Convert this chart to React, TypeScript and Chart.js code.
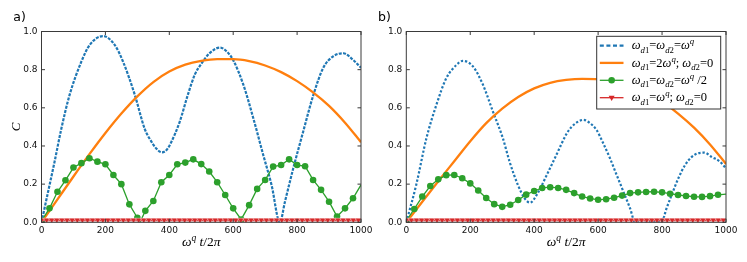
import React, { useEffect, useRef } from 'react';
import { Chart, registerables } from 'chart.js';
Chart.register(...registerables);

// ---------- shared ticks ----------
const xTicks = [0, 200, 400, 600, 800, 1000];
const yTicks = [0, 0.2, 0.4, 0.6, 0.8, 1.0];

// ---------- panel a) ----------
const aBlueX = [0, 20, 41, 62, 88, 125, 151, 193, 229, 255, 292, 323, 344, 360, 377, 392, 406, 432, 458, 480, 500, 525, 559, 580, 600, 632, 663, 694, 720, 746, 762, 788, 819, 851, 882, 913, 945, 976, 1000];
const aBlueY = [0, 0.155, 0.318, 0.49, 0.668, 0.843, 0.93, 0.976, 0.93, 0.843, 0.668, 0.49, 0.423, 0.385, 0.367, 0.38, 0.42, 0.524, 0.668, 0.775, 0.83, 0.885, 0.916, 0.895, 0.85, 0.72, 0.545, 0.353, 0.196, 0.0, 0.108, 0.283, 0.475, 0.668, 0.81, 0.87, 0.886, 0.85, 0.81];

const aOrangeX = [0, 50, 100, 150, 200, 250, 300, 350, 400, 450, 500, 550, 600, 650, 700, 750, 800, 850, 900, 950, 1000];
const aOrangeY = [0, 0.12, 0.24, 0.357, 0.468, 0.57, 0.66, 0.735, 0.79, 0.826, 0.846, 0.855, 0.855, 0.845, 0.822, 0.787, 0.74, 0.681, 0.61, 0.522, 0.42];

const aGreenX = [0, 25, 50, 75, 100, 125, 150, 175, 200, 225, 250, 275, 300, 308, 325, 350, 375, 400, 425, 450, 475, 500, 525, 550, 575, 600, 625, 650, 675, 700, 725, 750, 775, 800, 825, 850, 875, 900, 925, 950, 975, 1000];
const aGreenY = [0.007, 0.073, 0.16, 0.22, 0.287, 0.31, 0.336, 0.318, 0.304, 0.248, 0.2, 0.094, 0.024, 0.0, 0.06, 0.112, 0.21, 0.248, 0.304, 0.313, 0.33, 0.305, 0.266, 0.21, 0.143, 0.073, 0.015, 0.09, 0.175, 0.222, 0.292, 0.3, 0.33, 0.3, 0.294, 0.222, 0.17, 0.108, 0.03, 0.073, 0.126, 0.196];

// ---------- panel b) ----------
const bBlueX = [0, 31, 63, 94, 125, 157, 177, 209, 240, 271, 302, 323, 349, 370, 387, 410, 440, 470, 500, 517, 538, 554, 575, 595, 616, 637, 658, 679, 700, 715, 760, 799, 814, 830, 851, 872, 893, 913, 932, 955, 981, 1000];
const bBlueY = [0, 0.196, 0.441, 0.615, 0.755, 0.825, 0.846, 0.816, 0.72, 0.58, 0.441, 0.318, 0.196, 0.126, 0.103, 0.15, 0.25, 0.355, 0.46, 0.5, 0.528, 0.537, 0.519, 0.484, 0.414, 0.336, 0.248, 0.161, 0.073, 0.003, 0.0, 0.003, 0.073, 0.143, 0.231, 0.3, 0.343, 0.362, 0.365, 0.343, 0.318, 0.283];

const bOrangeX = [0, 50, 100, 150, 200, 250, 300, 350, 400, 450, 500, 550, 600, 650, 700, 750, 800, 850, 900, 950, 1000];
const bOrangeY = [0, 0.108, 0.215, 0.32, 0.425, 0.52, 0.596, 0.657, 0.702, 0.731, 0.746, 0.752, 0.75, 0.74, 0.718, 0.682, 0.633, 0.57, 0.496, 0.408, 0.306];

const bGreenX = [0, 25, 50, 75, 100, 125, 150, 175, 200, 225, 250, 275, 300, 325, 350, 375, 400, 425, 450, 475, 500, 525, 550, 575, 600, 625, 650, 675, 700, 725, 750, 775, 800, 825, 850, 875, 900, 925, 950, 975, 1000];
const bGreenY = [0.007, 0.07, 0.135, 0.19, 0.225, 0.247, 0.248, 0.231, 0.204, 0.167, 0.127, 0.095, 0.081, 0.092, 0.117, 0.145, 0.164, 0.18, 0.184, 0.18, 0.17, 0.153, 0.135, 0.125, 0.118, 0.121, 0.129, 0.14, 0.153, 0.157, 0.159, 0.16, 0.157, 0.15, 0.143, 0.138, 0.134, 0.133, 0.137, 0.144, 0.148];

// ---------- red series (both panels) ----------
const redX = [0, 16, 32, 48, 64, 80, 96, 112, 128, 144, 160, 176, 192, 208, 224, 240, 256, 272, 288, 304, 320, 336, 352, 368, 384, 400, 416, 432, 448, 464, 480, 496, 512, 528, 544, 560, 576, 592, 608, 624, 640, 656, 672, 688, 704, 720, 736, 752, 768, 784, 800, 816, 832, 848, 864, 880, 896, 912, 928, 944, 960, 976, 992];
const redY = [0.012, 0.012, 0.012, 0.012, 0.012, 0.012, 0.012, 0.012, 0.012, 0.012, 0.012, 0.012, 0.012, 0.012, 0.012, 0.012, 0.012, 0.012, 0.012, 0.012, 0.012, 0.012, 0.012, 0.012, 0.012, 0.012, 0.012, 0.012, 0.012, 0.012, 0.012, 0.012, 0.012, 0.012, 0.012, 0.012, 0.012, 0.012, 0.012, 0.012, 0.012, 0.012, 0.012, 0.012, 0.012, 0.012, 0.012, 0.012, 0.012, 0.012, 0.012, 0.012, 0.012, 0.012, 0.012, 0.012, 0.012, 0.012, 0.012, 0.012, 0.012, 0.012, 0.012];

const BLUE = '#1f77b4';
const ORANGE = '#ff7f0e';
const GREEN = '#2ca02c';
const RED = '#d62728';
const FRAME = '#3a3a3a';
const SERIF = '"Liberation Serif", "DejaVu Serif", serif';
const SANS = '"DejaVu Sans", sans-serif';

type Seg = { t: string; it?: boolean; k?: 'sub' | 'sup' };

function drawMath(ctx: CanvasRenderingContext2D, segs: Seg[], x: number, y: number, size: number, align: 'left' | 'center') {
  const small = size * 0.7;
  const font = (g: Seg) => `${g.it ? 'italic ' : ''}${g.k ? small : size}px ${SERIF}`;
  const dy = (g: Seg) => (g.k === 'sub' ? size * 0.27 : g.k === 'sup' ? -size * 0.4 : 0);
  let w = 0;
  for (const g of segs) { ctx.font = font(g); w += ctx.measureText(g.t).width; }
  let cx = align === 'center' ? x - w / 2 : x;
  ctx.textAlign = 'left';
  ctx.textBaseline = 'alphabetic';
  for (const g of segs) {
    ctx.font = font(g);
    ctx.fillText(g.t, cx, y + dy(g));
    cx += ctx.measureText(g.t).width;
  }
}

const Om: Seg = { t: 'ω', it: true };
const dSub: Seg = { t: 'd', it: true, k: 'sub' };
const s1: Seg = { t: '1', k: 'sub' };
const s2: Seg = { t: '2', k: 'sub' };
const qSup: Seg = { t: 'q', it: true, k: 'sup' };
const eq: Seg = { t: '=' };

const legendLabels: Seg[][] = [
  [Om, dSub, s1, eq, Om, dSub, s2, eq, Om, qSup],
  [Om, dSub, s1, eq, { t: '2' }, Om, qSup, { t: '; ' }, Om, dSub, s2, eq, { t: '0' }],
  [Om, dSub, s1, eq, Om, dSub, s2, eq, Om, qSup, { t: ' /2' }],
  [Om, dSub, s1, eq, Om, qSup, { t: '; ' }, Om, dSub, s2, eq, { t: '0' }],
];
const xTitle: Seg[] = [Om, qSup, { t: ' ' }, { t: 't', it: true }, { t: '/2' }, { t: 'π', it: true }];

const pts = (xs: number[], ys: number[]) => xs.map((x, i) => ({ x, y: ys[i] }));

function buildDatasets(blueX: number[], blueY: number[], orX: number[], orY: number[], grX: number[], grY: number[], blueDash: number[]) {
  return [
    {
      data: pts(redX, redY), borderColor: RED, borderWidth: 2.5, pointStyle: 'triangle', pointRotation: 180,
      pointRadius: 3.6, pointBackgroundColor: RED, pointBorderColor: '#ffffff', pointBorderWidth: 0.4, clip: 0,
    },
    {
      data: pts(grX, grY), borderColor: GREEN, borderWidth: 1.3, tension: 0,
      pointRadius: (c: any) => { const r = c.raw; return r && r.x % 25 === 0 && r.x < 1000 ? 3.3 : 0; },
      pointBackgroundColor: GREEN, pointBorderColor: GREEN, pointBorderWidth: 0, clip: 0,
    },
    {
      data: pts(orX, orY), borderColor: ORANGE, borderWidth: 2.3, pointRadius: 0, cubicInterpolationMode: 'monotone', clip: 0,
    },
    {
      data: pts(blueX, blueY), borderColor: BLUE, borderWidth: 2.2, borderDash: blueDash, borderCapStyle: 'butt',
      pointRadius: 0, cubicInterpolationMode: 'monotone', clip: 0,
    },
  ];
}

const framePlugin = {
  id: 'frameTicks',
  afterDatasetsDraw(chart: any) {
    const { ctx, chartArea: a, scales } = chart;
    ctx.save();
    ctx.strokeStyle = FRAME;
    ctx.lineWidth = 1;
    ctx.strokeRect(a.left, a.top, a.right - a.left, a.bottom - a.top);
    const L = 3.5;
    ctx.beginPath();
    for (const v of xTicks) {
      const px = scales.x.getPixelForValue(v);
      ctx.moveTo(px, a.bottom); ctx.lineTo(px, a.bottom - L);
      ctx.moveTo(px, a.top); ctx.lineTo(px, a.top + L);
    }
    for (const v of yTicks) {
      const py = scales.y.getPixelForValue(v);
      ctx.moveTo(a.left, py); ctx.lineTo(a.left + L, py);
      ctx.moveTo(a.right, py); ctx.lineTo(a.right - L, py);
    }
    ctx.stroke();
    ctx.restore();
  },
};

function makeOptions(yWidth: number, padRight: number) {
  const tickFont = { family: SANS, size: 9 };
  return {
    responsive: false,
    animation: false,
    events: [],
    layout: { padding: { left: 0, right: padRight, top: 31.5, bottom: 0 } },
    plugins: { legend: { display: false }, tooltip: { enabled: false } },
    scales: {
      x: {
        type: 'linear', min: 0, max: 1000,
        grid: { display: false, drawTicks: false }, border: { display: false },
        afterFit: (s: any) => { s.height = 39.7; },
        afterBuildTicks: (s: any) => { s.ticks = xTicks.map((v) => ({ value: v })); },
        ticks: { maxRotation: 0, autoSkip: false, padding: 3, color: '#111', font: tickFont, callback: (v: any) => String(v) },
      },
      y: {
        type: 'linear', min: 0, max: 1,
        grid: { display: false, drawTicks: false }, border: { display: false },
        afterFit: (s: any) => { s.width = yWidth; },
        afterBuildTicks: (s: any) => { s.ticks = yTicks.map((v) => ({ value: v })); },
        ticks: { autoSkip: false, padding: 4, color: '#111', font: tickFont, callback: (v: any) => Number(v).toFixed(1) },
      },
    },
  };
}

export default function App() {
  const refA = useRef<HTMLCanvasElement>(null);
  const refB = useRef<HTMLCanvasElement>(null);

  useEffect(() => {
    const textA = {
      id: 'textA',
      afterDraw(chart: any) {
        const { ctx, chartArea: a } = chart;
        ctx.save();
        ctx.fillStyle = '#000';
        ctx.font = `12.5px ${SANS}`;
        ctx.textAlign = 'left';
        ctx.textBaseline = 'alphabetic';
        ctx.fillText('a)', 13.3, 20.5);
        ctx.save();
        ctx.translate(20, (a.top + a.bottom) / 2);
        ctx.rotate(-Math.PI / 2);
        ctx.font = `italic 13px ${SERIF}`;
        ctx.textAlign = 'center';
        ctx.fillText('C', 0, 0);
        ctx.restore();
        drawMath(ctx, xTitle, (a.left + a.right) / 2, 246, 13.5, 'center');
        ctx.restore();
      },
    };
    const textB = {
      id: 'textB',
      afterDraw(chart: any) {
        const { ctx, chartArea: a } = chart;
        ctx.save();
        ctx.fillStyle = '#000';
        ctx.font = `12.5px ${SANS}`;
        ctx.textAlign = 'left';
        ctx.textBaseline = 'alphabetic';
        ctx.fillText('b)', 8, 20.5);
        drawMath(ctx, xTitle, (a.left + a.right) / 2, 246, 13.5, 'center');
        // legend
        const bx = 226.7, by = 36.3, bw = 124, bh = 72.7;
        ctx.fillStyle = '#fff';
        ctx.fillRect(bx, by, bw, bh);
        ctx.strokeStyle = '#333';
        ctx.lineWidth = 1;
        ctx.strokeRect(bx, by, bw, bh);
        const rows = [45.7, 62.9, 80.3, 97.7];
        const hx0 = 229.8, hx1 = 253.5, hc = (hx0 + hx1) / 2;
        // blue
        ctx.save();
        ctx.strokeStyle = BLUE; ctx.lineWidth = 2.2; ctx.setLineDash([4, 2.6]); ctx.lineCap = 'butt';
        ctx.beginPath(); ctx.moveTo(hx0, rows[0]); ctx.lineTo(hx1, rows[0]); ctx.stroke();
        ctx.restore();
        // orange
        ctx.strokeStyle = ORANGE; ctx.lineWidth = 2.3;
        ctx.beginPath(); ctx.moveTo(hx0, rows[1]); ctx.lineTo(hx1, rows[1]); ctx.stroke();
        // green
        ctx.strokeStyle = GREEN; ctx.lineWidth = 1.3;
        ctx.beginPath(); ctx.moveTo(hx0, rows[2]); ctx.lineTo(hx1, rows[2]); ctx.stroke();
        ctx.fillStyle = GREEN;
        ctx.beginPath(); ctx.arc(hc, rows[2], 3.3, 0, Math.PI * 2); ctx.fill();
        // red
        ctx.strokeStyle = RED; ctx.lineWidth = 1.3;
        ctx.beginPath(); ctx.moveTo(hx0, rows[3]); ctx.lineTo(hx1, rows[3]); ctx.stroke();
        ctx.fillStyle = RED;
        ctx.beginPath();
        ctx.moveTo(hc - 3, rows[3] - 2); ctx.lineTo(hc + 3, rows[3] - 2); ctx.lineTo(hc, rows[3] + 3.2); ctx.closePath();
        ctx.fill();
        ctx.fillStyle = '#000';
        legendLabels.forEach((segs, i) => drawMath(ctx, segs, 261.7, rows[i] + 3.6, 12.5, 'left'));
        ctx.restore();
      },
    };

    const chartA = new Chart(refA.current as HTMLCanvasElement, {
      type: 'line',
      data: { datasets: buildDatasets(aBlueX, aBlueY, aOrangeX, aOrangeY, aGreenX, aGreenY, [3, 1.3]) as any },
      options: makeOptions(41.5, 24) as any,
      plugins: [framePlugin, textA],
    });
    const chartB = new Chart(refB.current as HTMLCanvasElement, {
      type: 'line',
      data: { datasets: buildDatasets(bBlueX, bBlueY, bOrangeX, bOrangeY, bGreenX, bGreenY, [2.3, 1.9]) as any },
      options: makeOptions(36.3, 21) as any,
      plugins: [framePlugin, textB],
    });
    return () => { chartA.destroy(); chartB.destroy(); };
  }, []);

  return (
    <div style={{ position: 'fixed', left: 0, top: 0, width: 747, height: 262, background: '#fff' }}>
      <canvas ref={refA} width={385} height={262} style={{ position: 'absolute', left: 0, top: 0, width: 385, height: 262 }} />
      <canvas ref={refB} width={377} height={262} style={{ position: 'absolute', left: 370, top: 0, width: 377, height: 262 }} />
    </div>
  );
}
